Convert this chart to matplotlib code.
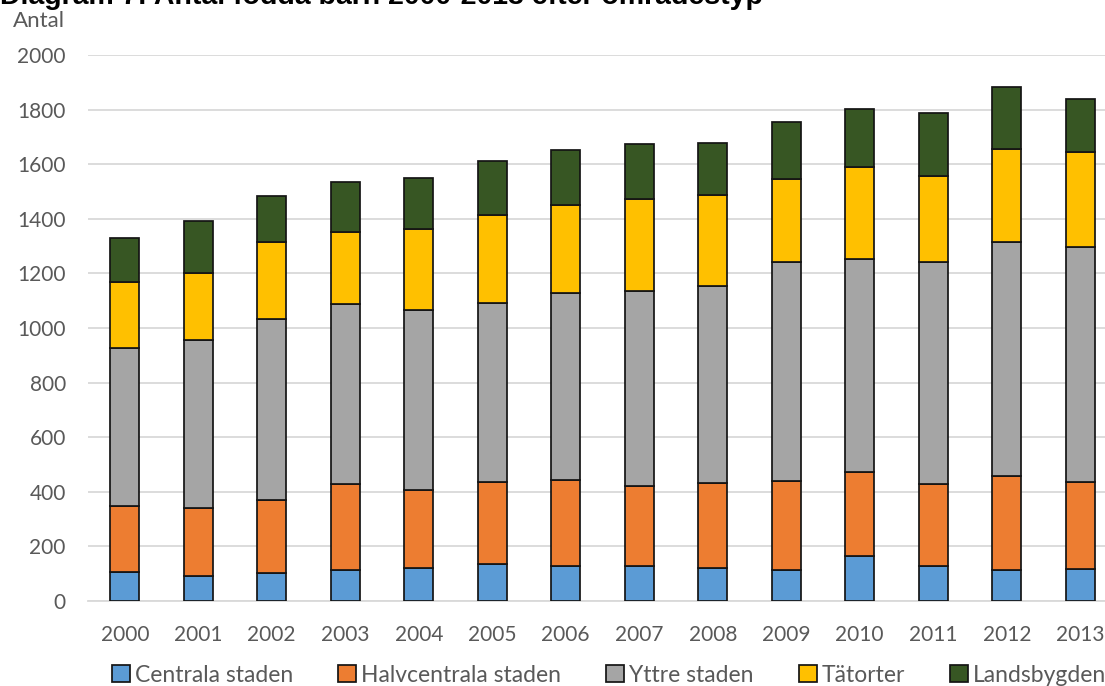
import matplotlib
matplotlib.use("Agg")
import matplotlib.pyplot as plt
import numpy as np

years = ["2000", "2001", "2002", "2003", "2004", "2005", "2006",
         "2007", "2008", "2009", "2010", "2011", "2012", "2013"]
centrala = [106, 93, 104, 115, 122, 137, 127, 127, 122, 115, 165, 127, 114, 119]
halvcentrala = [242, 246, 266, 312, 285, 298, 316, 293, 311, 325, 309, 300, 344, 317]
yttre = [578, 616, 662, 661, 659, 655, 684, 714, 722, 802, 780, 814, 858, 860]
tatorter = [242, 247, 284, 262, 297, 323, 323, 337, 334, 302, 335, 317, 339, 350]
landsbygden = [161, 189, 166, 183, 188, 198, 201, 202, 188, 212, 213, 229, 227, 191]

series_names = ["Centrala staden", "Halvcentrala staden", "Yttre staden", "Tätorter", "Landsbygden"]
colors = ["#5B9BD5", "#ED7D31", "#A5A5A5", "#FFC000", "#375623"]
yticks = [0, 200, 400, 600, 800, 1000, 1200, 1400, 1600, 1800, 2000]

plt.rcParams['font.family'] = ['Lato', 'DejaVu Sans']

W, H = 1105, 686
fig = plt.figure(figsize=(W / 100, H / 100), dpi=100)
left, right, top, bottom = 88, 1117, 55, 601
ax = fig.add_axes([left / W, 1 - bottom / H, (right - left) / W, (bottom - top) / H])

x = np.arange(len(years))
data = [centrala, halvcentrala, yttre, tatorter, landsbygden]
base = np.zeros(len(years))
handles = []
for vals, c, name in zip(data, colors, series_names):
    b = ax.bar(x, vals, width=0.40, bottom=base, color=c, edgecolor="#141414",
               linewidth=1.25, label=name, zorder=3)
    handles.append(b)
    base += np.array(vals)

ax.set_xlim(-0.5, len(years) - 0.5)
ax.set_ylim(0, 2000)
ax.set_yticks(yticks)
ax.set_yticklabels([str(v) for v in yticks])
ax.set_xticks(x)
ax.set_xticklabels(years)
ax.yaxis.grid(True, color="#D9D9D9", linewidth=1.3, zorder=0)
ax.set_axisbelow(True)
for s in ["top", "right", "left"]:
    ax.spines[s].set_visible(False)
ax.spines["bottom"].set_color("#D9D9D9")
ax.spines["bottom"].set_linewidth(1.3)
ax.tick_params(axis="both", length=0, labelsize=15, colors="#595959")
ax.tick_params(axis="x", pad=17)
ax.tick_params(axis="y", pad=16)

fig.text(13 / W, 1 - 21 / H, "Antal", fontsize=16, color="#595959", va="center", ha="left")
fig.text(0, 1 + 4 / H, "Diagram 7: Antal födda barn 2000-2013 efter områdestyp",
         fontsize=20.5, fontweight="bold", family=["Liberation Sans", "DejaVu Sans"],
         va="center", ha="left", color="black")

leg = fig.legend(handles=handles, labels=series_names, loc="center",
                 bbox_to_anchor=(609 / W, 1 - 675 / H), ncol=5, frameon=False,
                 fontsize=16.5, handlelength=0.8, handleheight=0.8, handletextpad=0.2,
                 columnspacing=1.97, labelcolor="#595959")

fig.savefig("out.png", dpi=100)
